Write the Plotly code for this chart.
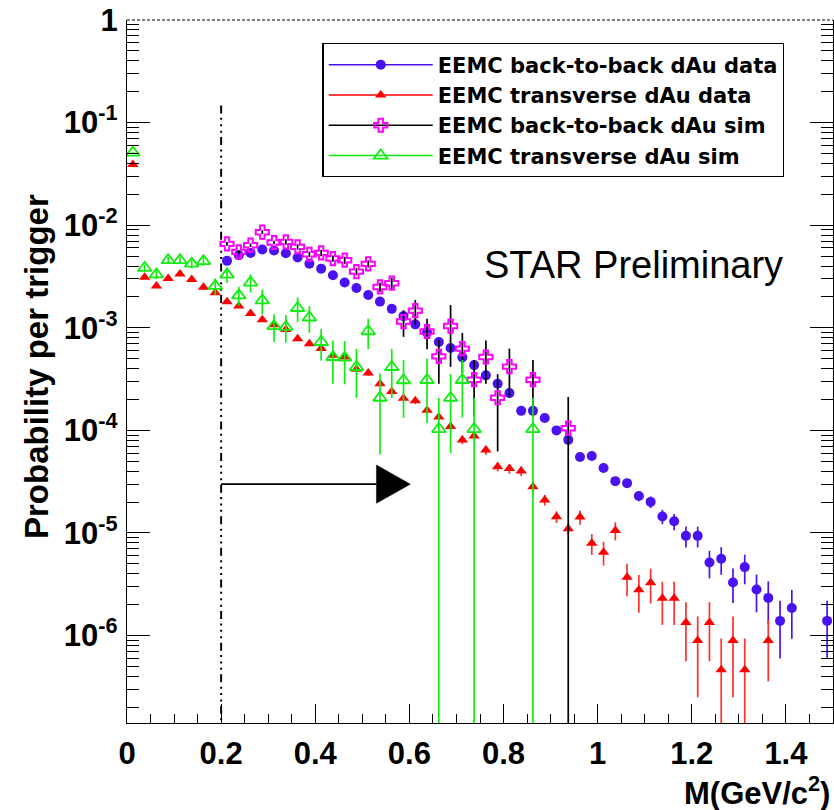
import plotly.graph_objects as go

FONT = "Liberation Sans"
LEGEND_FONT = "DejaVu Sans"

# ---------------- data ----------------
# EEMC back-to-back dAu data (blue filled circles)
b2b_data_x = [0.2125, 0.2375, 0.2625, 0.2875, 0.3125, 0.3375, 0.3625, 0.3875, 0.4125, 0.4375,
              0.4625, 0.4875, 0.5125, 0.5375, 0.5625, 0.5875, 0.6125, 0.6375, 0.6625, 0.6875,
              0.7125, 0.7375, 0.7625, 0.7875, 0.8125, 0.8375, 0.8625, 0.8875, 0.9125, 0.9375,
              0.9625, 0.9875, 1.0125, 1.0375, 1.0625, 1.0875, 1.1125, 1.1375, 1.1625, 1.1875,
              1.2125, 1.2375, 1.2625, 1.2875, 1.3125, 1.3375, 1.3625, 1.3875, 1.4125, 1.4875]
b2b_data_y = [4.49e-3, 5.10e-3, 5.37e-3, 5.79e-3, 5.67e-3, 5.33e-3, 4.84e-3, 4.22e-3, 3.77e-3, 3.25e-3,
              2.76e-3, 2.44e-3, 2.09e-3, 1.80e-3, 1.53e-3, 1.30e-3, 1.08e-3, 8.97e-4, 7.28e-4, 6.36e-4,
              5.15e-4, 4.33e-4, 3.44e-4, 2.85e-4, 2.31e-4, 1.55e-4, 1.55e-4, 1.32e-4, 1.00e-4, 8.09e-5,
              5.51e-5, 5.63e-5, 4.30e-5, 3.20e-5, 3.06e-5, 2.29e-5, 2.01e-5, 1.45e-5, 1.30e-5, 9.38e-6,
              9.38e-6, 5.15e-6, 5.60e-6, 3.29e-6, 4.65e-6, 2.81e-6, 2.33e-6, 1.39e-6, 1.86e-6, 1.39e-6]
b2b_data_relerr = [0.01, 0.01, 0.01, 0.01, 0.01, 0.01, 0.01, 0.012, 0.012, 0.013,
                   0.015, 0.015, 0.017, 0.018, 0.02, 0.02, 0.022, 0.025, 0.027, 0.03,
                   0.03, 0.033, 0.035, 0.04, 0.045, 0.045, 0.05, 0.05, 0.055, 0.06,
                   0.07, 0.07, 0.08, 0.08, 0.09, 0.11, 0.13, 0.16, 0.18, 0.23,
                   0.23, 0.30, 0.30, 0.37, 0.32, 0.40, 0.45, 0.57, 0.50, 0.57]

# EEMC transverse dAu data (red filled triangles)
trans_data_x = [0.0125, 0.0375, 0.0625, 0.0875, 0.1125, 0.1375, 0.1625, 0.1875, 0.2125, 0.2375,
                0.2625, 0.2875, 0.3125, 0.3375, 0.3625, 0.3875, 0.4125, 0.4375, 0.4625, 0.4875,
                0.5125, 0.5375, 0.5625, 0.5875, 0.6125, 0.6375, 0.6625, 0.6875, 0.7125, 0.7375,
                0.7625, 0.7875, 0.8125, 0.8375, 0.8625, 0.8875, 0.9125, 0.9375, 0.9625, 0.9875,
                1.0125, 1.0375, 1.0625, 1.0875, 1.1125, 1.1375, 1.1625, 1.1875, 1.2125, 1.2375,
                1.2625, 1.2875, 1.3125, 1.3625]
trans_data_y = [3.9e-2, 3.11e-3, 2.56e-3, 3.02e-3, 3.35e-3, 2.95e-3, 2.48e-3, 2.20e-3, 1.79e-3, 1.63e-3,
                1.38e-3, 1.20e-3, 1.07e-3, 9.6e-4, 7.83e-4, 7.0e-4, 6.27e-4, 5.39e-4, 5.19e-4, 3.94e-4,
                3.62e-4, 2.85e-4, 2.40e-4, 2.06e-4, 1.95e-4, 1.57e-4, 1.35e-4, 1.09e-4, 8.07e-5, 8.83e-5,
                6.44e-5, 4.43e-5, 4.24e-5, 4.02e-5, 2.83e-5, 2.10e-5, 1.44e-5, 1.10e-5, 1.43e-5, 7.94e-6,
                6.50e-6, 1.06e-5, 3.71e-6, 2.79e-6, 3.27e-6, 2.31e-6, 2.31e-6, 1.34e-6, 8.94e-7, 1.34e-6,
                4.65e-7, 8.94e-7, 4.65e-7, 8.94e-7]
trans_data_relerr = [0.01, 0.04, 0.04, 0.04, 0.04, 0.04, 0.05, 0.05, 0.04, 0.04,
                     0.045, 0.045, 0.05, 0.05, 0.05, 0.055, 0.055, 0.06, 0.06, 0.06,
                     0.065, 0.065, 0.07, 0.07, 0.075, 0.08, 0.08, 0.09, 0.09, 0.09,
                     0.10, 0.10, 0.11, 0.11, 0.12, 0.12, 0.13, 0.12, 0.16, 0.23,
                     0.26, 0.20, 0.35, 0.40, 0.37, 0.45, 0.45, 0.58, 0.72, 0.58,
                     1.02, 0.72, 1.02, 0.60]

# EEMC back-to-back dAu sim (magenta open crosses, black bars)
b2b_sim_x = [0.2125, 0.2375, 0.2625, 0.2875, 0.3125, 0.3375, 0.3625, 0.3875, 0.4125, 0.4375,
             0.4625, 0.4875, 0.5125, 0.5375, 0.5625, 0.5875, 0.6125, 0.6375, 0.6625, 0.6875,
             0.7125, 0.7375, 0.7625, 0.7875, 0.8125, 0.8625, 0.9375]
b2b_sim_y = [6.58e-3, 5.49e-3, 6.38e-3, 8.55e-3, 6.78e-3, 6.87e-3, 6.15e-3, 5.21e-3, 5.37e-3, 4.73e-3,
             4.56e-3, 3.53e-3, 4.20e-3, 2.50e-3, 2.72e-3, 1.15e-3, 1.47e-3, 9.2e-4, 5.27e-4, 1.04e-3,
             6.27e-4, 3.12e-4, 5.19e-4, 2.08e-4, 4.18e-4, 3.12e-4, 1.05e-4]
b2b_sim_relerr = [0.04, 0.04, 0.04, 0.04, 0.04, 0.06, 0.06, 0.06, 0.07, 0.07,
                  0.08, 0.08, 0.08, 0.10, 0.13, 0.29, 0.27, 0.33, 0.46, 0.60,
                  0.42, 0.56, 0.45, 0.70, 0.50, 0.56, 1.02]

# EEMC transverse dAu sim (green open triangles)
trans_sim_x = [0.0125, 0.0375, 0.0625, 0.0875, 0.1125, 0.1375, 0.1625, 0.1875, 0.2125, 0.2375,
               0.2625, 0.2875, 0.3125, 0.3375, 0.3625, 0.3875, 0.4125, 0.4375, 0.4625, 0.4875,
               0.5125, 0.5375, 0.5625, 0.5875, 0.6375, 0.6625, 0.6875, 0.7125, 0.7375, 0.8625]
trans_sim_y = [5.1e-2, 3.83e-3, 3.31e-3, 4.56e-3, 4.56e-3, 4.22e-3, 4.46e-3, 2.56e-3, 3.30e-3, 2.07e-3,
               2.76e-3, 1.85e-3, 1.04e-3, 1.02e-3, 1.56e-3, 1.26e-3, 7.27e-4, 5.19e-4, 5.12e-4, 4.15e-4,
               9.25e-4, 2.08e-4, 4.15e-4, 3.08e-4, 3.10e-4, 1.03e-4, 2.07e-4, 3.10e-4, 1.03e-4, 1.03e-4]
trans_sim_relerr = [0.02, 0.08, 0.10, 0.08, 0.08, 0.10, 0.10, 0.18, 0.17, 0.21,
                    0.20, 0.27, 0.30, 0.30, 0.27, 0.29, 0.34, 0.45, 0.45, 0.50,
                    0.33, 0.72, 0.50, 0.57, 0.62, 1.02, 0.71, 0.57, 1.02, 1.02]

series_names = ["EEMC back-to-back dAu data", "EEMC transverse dAu data",
                "EEMC back-to-back dAu sim", "EEMC transverse dAu sim"]

# decorations (cut line and arrow)
cut_x = 0.2
cut_top = 0.147
arrow_y = 2.99e-5
arrow_base_x = 0.530
arrow_tip_x = 0.602
arrow_half_top = 4.60e-5
arrow_half_bot = 1.95e-5

y_tickvals = [1e-6, 1e-5, 1e-4, 1e-3, 1e-2, 1e-1, 1]
y_ticktext = ["10<sup>-6</sup>", "10<sup>-5</sup>", "10<sup>-4</sup>", "10<sup>-3</sup>",
              "10<sup>-2</sup>", "10<sup>-1</sup>", "1"]

# ---------------- styles ----------------
BLUE = "#4a12f0"
RED = "#ff0000"
MAGENTA = "#ff00ff"
GREEN = "#10ee10"


def abs_err(vals, rel):
    return [v * r for v, r in zip(vals, rel)]


fig = go.Figure()

# cut line at M = 0.2
fig.add_trace(go.Scatter(x=[cut_x, cut_x], y=[cut_top, 1e-8], mode="lines",
                         line=dict(color="black", width=2,
                                   dash="8px,4.4px,2px,4.4px,2px,4.4px,2px,4.4px"),
                         showlegend=False, hoverinfo="skip"))
# arrow
fig.add_trace(go.Scatter(x=[cut_x, arrow_base_x], y=[arrow_y, arrow_y], mode="lines",
                         line=dict(color="black", width=1.7), showlegend=False, hoverinfo="skip"))
fig.add_trace(go.Scatter(x=[arrow_base_x, arrow_tip_x, arrow_base_x, arrow_base_x],
                         y=[arrow_half_top, arrow_y, arrow_half_bot, arrow_half_top],
                         mode="lines", fill="toself", fillcolor="black",
                         line=dict(color="black", width=0.5), showlegend=False, hoverinfo="skip"))

specs = [
    (b2b_data_x, b2b_data_y, b2b_data_relerr, dict(symbol="circle", size=10, color=BLUE), BLUE, BLUE),
    (trans_data_x, trans_data_y, trans_data_relerr, dict(symbol="triangle-up", size=10, color=RED), "#ff3030", RED),
    (b2b_sim_x, b2b_sim_y, b2b_sim_relerr,
     dict(symbol="cross-open", size=11, color=MAGENTA, line=dict(color=MAGENTA, width=2)), "black", "black"),
    (trans_sim_x, trans_sim_y, trans_sim_relerr,
     dict(symbol="triangle-up-open", size=12, color=GREEN, line=dict(color=GREEN, width=1.8)), GREEN, GREEN),
]

for (xs, ys, rel, mk, ecol, lcol), name in zip(specs, series_names):
    fig.add_trace(go.Scatter(
        x=xs, y=ys, mode="markers", marker=mk, showlegend=False, name=name,
        error_y=dict(type="data", array=abs_err(ys, rel), visible=True,
                     color=ecol, thickness=1.7, width=0),
    ))

# legend-only entries (line + marker like the ROOT legend)
for (xs, ys, rel, mk, ecol, lcol), name in zip(specs, series_names):
    fig.add_trace(go.Scatter(x=[None], y=[None], mode="lines+markers", name=name,
                             marker=mk, line=dict(color=lcol, width=1.5)))

fig.update_layout(
    width=834, height=810,
    margin=dict(l=127, r=1, t=20, b=87),
    paper_bgcolor="white", plot_bgcolor="white",
    font=dict(family=FONT, color="black"),
    legend=dict(x=0.2768, y=0.967, xanchor="left", yanchor="top",
                bgcolor="white", bordercolor="black", borderwidth=1.3,
                font=dict(family=LEGEND_FONT, size=21, weight="bold", color="black"),
                itemwidth=104, tracegroupgap=0),
    xaxis=dict(range=[0, 1.5], showgrid=False, zeroline=False,
               showline=True, linecolor="black", linewidth=1.3, mirror=False,
               tick0=0, dtick=0.2, ticks="inside", ticklen=19, tickwidth=1.3, tickcolor="black",
               minor=dict(dtick=0.05, tick0=0, ticks="inside", ticklen=9, tickwidth=1.3,
                          tickcolor="black", showgrid=False),
               tickfont=dict(family=FONT, size=31, weight="bold", color="black"),
               ticklabelstandoff=3),
    yaxis=dict(type="log", range=[-6.852, 0], showgrid=False, zeroline=False,
               showline=True, linecolor="black", linewidth=1.3, mirror="allticks",
               tickmode="array", tickvals=y_tickvals, ticktext=y_ticktext,
               ticks="inside", ticklen=23, tickwidth=1.3, tickcolor="black",
               minor=dict(dtick="D1", ticks="inside", ticklen=12, tickwidth=1.3,
                          tickcolor="black", showgrid=False),
               tickfont=dict(family=FONT, size=31, weight="bold", color="black"),
               ticklabelstandoff=2),
    shapes=[dict(type="line", xref="paper", yref="paper", x0=0, x1=1, y0=1, y1=1,
                 line=dict(color="black", width=1, dash="3px,2px"))],
    annotations=[
        dict(text="STAR Preliminary", x=1.077, y=-2.39, xref="x", yref="y",
             xanchor="center", yanchor="middle", showarrow=False,
             font=dict(family=FONT, size=38, color="black")),
        dict(text="Probability per trigger", x=0, y=0.507, xref="paper", yref="paper",
             xanchor="center", yanchor="middle", xshift=-90.6, textangle=-90, showarrow=False,
             font=dict(family=FONT, size=33, weight="bold", color="black")),
        dict(text="M(GeV/c<sup>2</sup>)", x=1, y=0, xref="paper", yref="paper",
             xanchor="right", yanchor="top", xshift=-1.5, yshift=-46, showarrow=False,
             font=dict(family=FONT, size=31, weight="bold", color="black")),
    ],
)

fig.write_html("out.html")
